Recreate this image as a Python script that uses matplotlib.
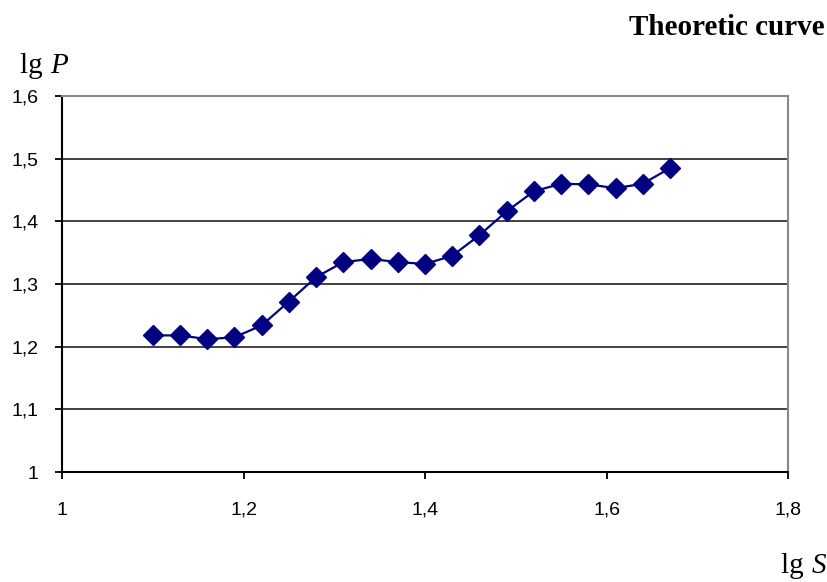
import numpy as np
import matplotlib
matplotlib.use('Agg')
import matplotlib.pyplot as plt
from matplotlib.ticker import FuncFormatter

lg_s = [1.10, 1.13, 1.16, 1.19, 1.22, 1.25, 1.28, 1.31, 1.34, 1.37,
        1.40, 1.43, 1.46, 1.49, 1.52, 1.55, 1.58, 1.61, 1.64, 1.67]
lg_p = [1.218, 1.218, 1.212, 1.215, 1.234, 1.272, 1.311, 1.335, 1.340, 1.335,
        1.332, 1.345, 1.378, 1.416, 1.448, 1.460, 1.459, 1.453, 1.460, 1.485]
x_ticks = [1.0, 1.2, 1.4, 1.6, 1.8]
y_ticks = [1.0, 1.1, 1.2, 1.3, 1.4, 1.5, 1.6]

fig = plt.figure(figsize=(8.28, 5.82), dpi=100)
ax = fig.add_axes([0.0749, 0.189, 0.8768, 0.646])

ax.plot(lg_s, lg_p, color='#000080', lw=1.6, marker='D', markersize=10,
        markerfacecolor='#000080', markeredgecolor='#000080', zorder=3)

ax.set_xlim(1.0, 1.8)
ax.set_ylim(1.0, 1.6)
ax.set_xticks(x_ticks)
ax.set_yticks(y_ticks)


def comma(v, pos):
    s = ('%.1f' % v).replace('.', ',')
    return '1' if s == '1,0' else s


ax.xaxis.set_major_formatter(FuncFormatter(comma))
ax.yaxis.set_major_formatter(FuncFormatter(comma))

for y in y_ticks[1:-1]:
    ax.axhline(y, color='#333333', lw=1.3, zorder=1)

ax.spines['left'].set_color('black')
ax.spines['bottom'].set_color('black')
ax.spines['left'].set_linewidth(1.5)
ax.spines['bottom'].set_linewidth(1.5)
ax.spines['top'].set_color('#888888')
ax.spines['right'].set_color('#888888')
ax.spines['top'].set_linewidth(1.5)
ax.spines['right'].set_linewidth(1.5)

ax.tick_params(axis='y', direction='out', length=5, width=1.3, pad=12,
               labelsize=14)
ax.tick_params(axis='x', direction='out', length=5, width=1.3, pad=16.5,
               labelsize=14)
for lab in ax.get_xticklabels() + ax.get_yticklabels():
    lab.set_fontfamily('Liberation Sans')

serif = 'Liberation Serif'
fig.text(825 / 828, 1 - 35 / 582, 'Theoretic curve', ha='right',
         va='baseline', fontsize=21, fontweight='bold', family=serif)

# axis labels: "lg" upright, variable italic
t = fig.text(20 / 828, 1 - 73 / 582, 'lg ', ha='left', va='baseline',
             fontsize=21, family=serif)
fig.canvas.draw()
bb = t.get_window_extent()
fig.text(bb.x1 / 828, 1 - 73 / 582, 'P', ha='left', va='baseline',
         fontsize=21, family=serif, style='italic')

s = fig.text(826 / 828, 1 - 573 / 582, 'S', ha='right', va='baseline',
             fontsize=21, family=serif, style='italic')
fig.canvas.draw()
bb = s.get_window_extent()
fig.text(bb.x0 / 828, 1 - 573 / 582, 'lg ', ha='right', va='baseline',
         fontsize=21, family=serif)

fig.savefig('out.png', dpi=100)
